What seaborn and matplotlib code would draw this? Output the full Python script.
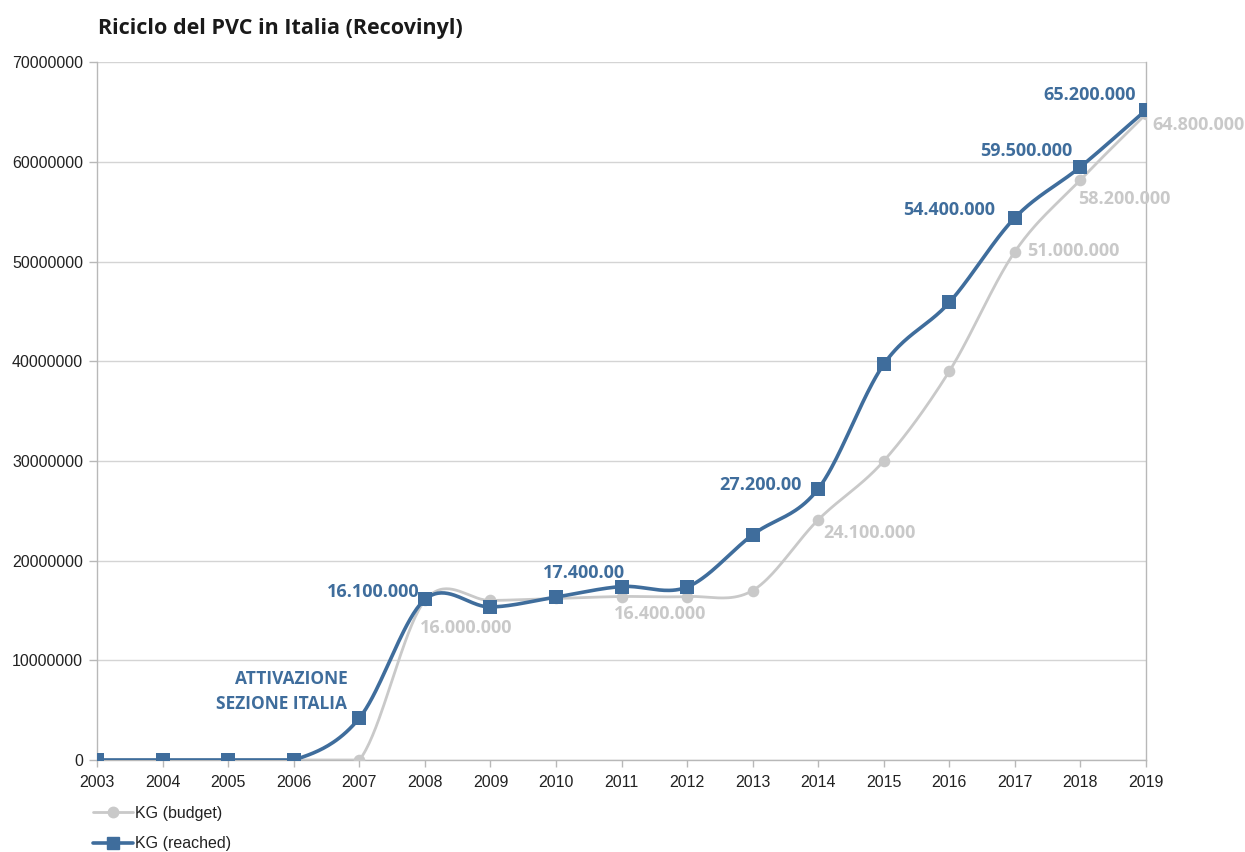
import numpy as np
import pandas as pd
import matplotlib
matplotlib.use("Agg")
import matplotlib.pyplot as plt
import matplotlib.ticker as mticker
from matplotlib.lines import Line2D
import seaborn as sns

# ---- data ----
years = [2003, 2004, 2005, 2006, 2007, 2008, 2009, 2010, 2011,
         2012, 2013, 2014, 2015, 2016, 2017, 2018, 2019]
kg_budget = [0, 0, 0, 0, 0, 16000000, 16000000, 16200000, 16400000,
             16400000, 17000000, 24100000, 30000000, 39000000, 51000000,
             58200000, 64800000]
kg_reached = [0, 0, 0, 0, 4200000, 16100000, 15350000, 16350000, 17400000,
              17350000, 22600000, 27200000, 39700000, 45900000, 54400000,
              59500000, 65200000]

budget_labels = {2008: "16.000.000", 2011: "16.400.000", 2014: "24.100.000",
                 2017: "51.000.000", 2018: "58.200.000", 2019: "64.800.000"}
reached_labels = {2008: "16.100.000", 2011: "17.400.00", 2014: "27.200.00",
                  2017: "54.400.000", 2018: "59.500.000", 2019: "65.200.000"}

BLUE = "#3f6d9c"
GREY = "#c9c9c9"


def smooth(xs, ys, n=40):
    """Cardinal (Catmull-Rom) spline through the points, like a smoothed office chart line."""
    xs = np.asarray(xs, float)
    ys = np.asarray(ys, float)
    m = np.zeros_like(ys)
    m[1:-1] = (ys[2:] - ys[:-2]) / 2.0
    m[0] = ys[1] - ys[0]
    m[-1] = ys[-1] - ys[-2]
    out_x, out_y = [], []
    for i in range(len(xs) - 1):
        t = np.linspace(0, 1, n, endpoint=False)
        h00 = 2 * t**3 - 3 * t**2 + 1
        h10 = t**3 - 2 * t**2 + t
        h01 = -2 * t**3 + 3 * t**2
        h11 = t**3 - t**2
        seg = h00 * ys[i] + h10 * m[i] + h01 * ys[i + 1] + h11 * m[i + 1]
        out_x.append(xs[i] + t * (xs[i + 1] - xs[i]))
        out_y.append(seg)
    out_x.append([xs[-1]])
    out_y.append([ys[-1]])
    yy = np.concatenate(out_y)
    return np.concatenate(out_x), np.clip(yy, 0, None)


sns.set_theme(style="white")
plt.rcParams["font.family"] = ["Liberation Sans", "DejaVu Sans"]

fig = plt.figure(figsize=(12.45, 8.52), dpi=100)
ax = fig.add_axes([0.078, 0.108, 0.8425, 0.819])

bx, by = smooth(years, kg_budget)
rx, ry = smooth(years, kg_reached)
curves = pd.DataFrame({"x": np.concatenate([bx, rx]),
                       "y": np.concatenate([by, ry]),
                       "serie": ["KG (budget)"] * len(bx) + ["KG (reached)"] * len(rx)})
points = pd.DataFrame({"year": years * 2,
                       "kg": kg_budget + kg_reached,
                       "serie": ["KG (budget)"] * len(years) + ["KG (reached)"] * len(years)})

sns.lineplot(data=curves[curves.serie == "KG (budget)"], x="x", y="y", color=GREY,
             linewidth=2.0, ax=ax, legend=False, sort=False, zorder=3)
sns.scatterplot(data=points[points.serie == "KG (budget)"], x="year", y="kg", color=GREY,
                marker="o", s=70, linewidth=0, ax=ax, legend=False, zorder=4)
sns.lineplot(data=curves[curves.serie == "KG (reached)"], x="x", y="y", color=BLUE,
             linewidth=2.6, ax=ax, legend=False, sort=False, zorder=5)
sns.scatterplot(data=points[points.serie == "KG (reached)"], x="year", y="kg", color=BLUE,
                marker="s", s=90, linewidth=0, ax=ax, legend=False, zorder=6)

ax.set_xlim(2003, 2019)
ax.set_ylim(0, 70000000)
ax.set_xticks(years)
ax.set_yticks(np.arange(0, 70000001, 10000000))
ax.yaxis.set_major_formatter(mticker.FuncFormatter(lambda v, p: f"{int(v)}"))
ax.set_xlabel("")
ax.set_ylabel("")
ax.grid(axis="y", color="#d4d4d4", linewidth=1.0)
ax.set_axisbelow(True)
for side in ["left", "bottom", "right"]:
    ax.spines[side].set_color("#b8b8b8")
    ax.spines[side].set_linewidth(1.0)
ax.spines["top"].set_visible(False)
ax.tick_params(axis="x", which="major", bottom=True, length=5, width=1,
               color="#b8b8b8", labelsize=11.5, pad=6, labelcolor="#222222")
ax.tick_params(axis="y", which="major", left=True, length=6, width=1,
               color="#b8b8b8", labelsize=11.5, pad=4, labelcolor="#222222")

label_font = dict(family=["Open Sans", "DejaVu Sans"], fontweight="bold", fontsize=13)

reached_offsets = {2008: (-5, 7, "right"), 2011: (3, 14, "right"), 2014: (-17, 4, "right"),
                   2017: (-20, 8, "right"), 2018: (-8, 16, "right"), 2019: (-10, 15, "right")}
budget_offsets = {2008: (-5, -28, "left"), 2011: (-8, -17, "left"), 2014: (5, -13, "left"),
                  2017: (12, 1, "left"), 2018: (-2, -19, "left"), 2019: (6, -11, "left")}

val_r = dict(zip(years, kg_reached))
val_b = dict(zip(years, kg_budget))
for yr, txt in reached_labels.items():
    dx, dy, ha = reached_offsets[yr]
    ax.annotate(txt, (yr, val_r[yr]), xytext=(dx, dy), textcoords="offset pixels",
                ha=ha, va="center", color=BLUE, annotation_clip=False, zorder=7, **label_font)
for yr, txt in budget_labels.items():
    dx, dy, ha = budget_offsets[yr]
    ax.annotate(txt, (yr, val_b[yr]), xytext=(dx, dy), textcoords="offset pixels",
                ha=ha, va="center", color=GREY, annotation_clip=False, zorder=7, **label_font)

ax.annotate("ATTIVAZIONE\nSEZIONE ITALIA", (2007, val_r[2007]), xytext=(-12, 27),
            textcoords="offset pixels", ha="right", va="center", color=BLUE,
            linespacing=1.5, annotation_clip=False,
            family=["Open Sans", "DejaVu Sans"], fontweight="bold", fontsize=12.5)

fig.text(0.079, 0.967, "Riciclo del PVC in Italia (Recovinyl)", ha="left", va="center",
         fontsize=15.5, fontweight="bold", color="#1a1a1a", family=["Open Sans", "DejaVu Sans"])

handles = [Line2D([], [], color=GREY, linewidth=2.0, marker="o", markersize=7.5),
           Line2D([], [], color=BLUE, linewidth=2.6, marker="s", markersize=8)]
fig.legend(handles, ["KG (budget)", "KG (reached)"], loc="upper left",
           bbox_to_anchor=(0.075, 0.054), frameon=False, fontsize=11.5,
           handlelength=2.5, handletextpad=0.1, labelspacing=0.95, borderaxespad=0,
           borderpad=0, labelcolor="#222222")

fig.savefig("out.png", dpi=100, facecolor="white")
